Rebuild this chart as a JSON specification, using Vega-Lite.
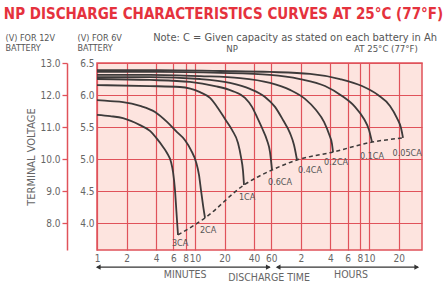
{
  "$schema": "https://vega.github.io/schema/vega-lite/v6.json",
  "width": 325,
  "height": 187,
  "autosize": "none",
  "padding": {"left": 97, "top": 63, "right": 23, "bottom": 36},
  "background": "white",
  "config": {
    "font": "Liberation Sans Narrow, DejaVu Sans Condensed, sans-serif",
    "view": {"fill": "#fde4df", "stroke": "#e0525a", "strokeWidth": 1.5}
  },
  "title": {
    "text": "NP DISCHARGE CHARACTERISTICS CURVES AT 25°C (77°F)",
    "color": "#e5323d",
    "fontSize": 15,
    "fontWeight": "bold",
    "anchor": "middle",
    "frame": "group",
    "dx": -36,
    "offset": 10
  },
  "datasets": {
    "curves": [
      {"c": "3CA", "t": 1, "v": 11.38}, {"c": "3CA", "t": 1.36, "v": 11.34}, {"c": "3CA", "t": 1.84, "v": 11.28}, {"c": "3CA", "t": 2.75, "v": 11.06}, {"c": "3CA", "t": 3.47, "v": 10.88}, {"c": "3CA", "t": 4.1, "v": 10.63}, {"c": "3CA", "t": 4.72, "v": 10.38}, {"c": "3CA", "t": 5.18, "v": 10.19}, {"c": "3CA", "t": 5.69, "v": 9.91}, {"c": "3CA", "t": 5.97, "v": 9.59}, {"c": "3CA", "t": 6.25, "v": 9.03}, {"c": "3CA", "t": 6.4, "v": 8.56}, {"c": "3CA", "t": 6.55, "v": 8.09}, {"c": "3CA", "t": 6.71, "v": 7.63},
      {"c": "2CA", "t": 1, "v": 11.84}, {"c": "2CA", "t": 1.36, "v": 11.81}, {"c": "2CA", "t": 1.84, "v": 11.78}, {"c": "2CA", "t": 2.75, "v": 11.66}, {"c": "2CA", "t": 3.91, "v": 11.47}, {"c": "2CA", "t": 5.18, "v": 11.16}, {"c": "2CA", "t": 6.55, "v": 10.84}, {"c": "2CA", "t": 7.91, "v": 10.59}, {"c": "2CA", "t": 9.1, "v": 10.28}, {"c": "2CA", "t": 10.24, "v": 9.91}, {"c": "2CA", "t": 10.99, "v": 9.5}, {"c": "2CA", "t": 11.51, "v": 9.03}, {"c": "2CA", "t": 12.07, "v": 8.56}, {"c": "2CA", "t": 12.65, "v": 8.16},
      {"c": "1CA", "t": 1, "v": 12.31}, {"c": "1CA", "t": 3.47, "v": 12.28}, {"c": "1CA", "t": 7.03, "v": 12.25}, {"c": "1CA", "t": 11.25, "v": 12.09}, {"c": "1CA", "t": 14.23, "v": 11.91}, {"c": "1CA", "t": 17.17, "v": 11.59}, {"c": "1CA", "t": 20.24, "v": 11.25}, {"c": "1CA", "t": 23.86, "v": 10.91}, {"c": "1CA", "t": 27.47, "v": 10.5}, {"c": "1CA", "t": 29.47, "v": 10.06}, {"c": "1CA", "t": 30.89, "v": 9.63}, {"c": "1CA", "t": 31.62, "v": 9.19},
      {"c": "0.6CA", "t": 1, "v": 12.5}, {"c": "0.6CA", "t": 3.47, "v": 12.47}, {"c": "0.6CA", "t": 8.89, "v": 12.41}, {"c": "0.6CA", "t": 16.0, "v": 12.28}, {"c": "0.6CA", "t": 23.86, "v": 12.13}, {"c": "0.6CA", "t": 32.37, "v": 11.91}, {"c": "0.6CA", "t": 38.16, "v": 11.63}, {"c": "0.6CA", "t": 42.93, "v": 11.31}, {"c": "0.6CA", "t": 48.29, "v": 10.97}, {"c": "0.6CA", "t": 54.28, "v": 10.59}, {"c": "0.6CA", "t": 58.26, "v": 10.22}, {"c": "0.6CA", "t": 61.06, "v": 9.66},
      {"c": "0.4CA", "t": 1, "v": 12.56}, {"c": "0.4CA", "t": 3.47, "v": 12.56}, {"c": "0.4CA", "t": 11.25, "v": 12.5}, {"c": "0.4CA", "t": 22.76, "v": 12.38}, {"c": "0.4CA", "t": 36.41, "v": 12.19}, {"c": "0.4CA", "t": 51.79, "v": 11.94}, {"c": "0.4CA", "t": 65.52, "v": 11.63}, {"c": "0.4CA", "t": 79.07, "v": 11.22}, {"c": "0.4CA", "t": 93.2, "v": 10.81}, {"c": "0.4CA", "t": 102.4, "v": 10.44}, {"c": "0.4CA", "t": 109.9, "v": 9.97},
      {"c": "0.2CA", "t": 1, "v": 12.63}, {"c": "0.2CA", "t": 3.47, "v": 12.63}, {"c": "0.2CA", "t": 11.25, "v": 12.59}, {"c": "0.2CA", "t": 28.79, "v": 12.53}, {"c": "0.2CA", "t": 58.26, "v": 12.38}, {"c": "0.2CA", "t": 93.2, "v": 12.16}, {"c": "0.2CA", "t": 132.6, "v": 11.88}, {"c": "0.2CA", "t": 171.7, "v": 11.53}, {"c": "0.2CA", "t": 207.2, "v": 11.16}, {"c": "0.2CA", "t": 233, "v": 10.78}, {"c": "0.2CA", "t": 250, "v": 10.47}, {"c": "0.2CA", "t": 256, "v": 10.22},
      {"c": "0.1CA", "t": 1, "v": 12.72}, {"c": "0.1CA", "t": 4.39, "v": 12.72}, {"c": "0.1CA", "t": 17.99, "v": 12.69}, {"c": "0.1CA", "t": 58.26, "v": 12.63}, {"c": "0.1CA", "t": 117.9, "v": 12.5}, {"c": "0.1CA", "t": 212.1, "v": 12.28}, {"c": "0.1CA", "t": 316.2, "v": 11.97}, {"c": "0.1CA", "t": 429.3, "v": 11.63}, {"c": "0.1CA", "t": 530.4, "v": 11.25}, {"c": "0.1CA", "t": 596.5, "v": 10.91}, {"c": "0.1CA", "t": 640.1, "v": 10.53},
      {"c": "0.05CA", "t": 1, "v": 12.78}, {"c": "0.05CA", "t": 4.39, "v": 12.78}, {"c": "0.05CA", "t": 17.99, "v": 12.75}, {"c": "0.05CA", "t": 58.26, "v": 12.72}, {"c": "0.05CA", "t": 149.1, "v": 12.66}, {"c": "0.05CA", "t": 301.7, "v": 12.5}, {"c": "0.05CA", "t": 506, "v": 12.28}, {"c": "0.05CA", "t": 736.8, "v": 12.0}, {"c": "0.05CA", "t": 976.8, "v": 11.66}, {"c": "0.05CA", "t": 1151, "v": 11.28}, {"c": "0.05CA", "t": 1265, "v": 10.97}, {"c": "0.05CA", "t": 1326, "v": 10.66}
    ],
    "endline": [
      {"t": 6.71, "v": 7.63}, {"t": 12.65, "v": 8.16}, {"t": 31.62, "v": 9.19}, {"t": 61.06, "v": 9.66}, {"t": 109.9, "v": 9.97}, {"t": 256, "v": 10.22}, {"t": 640.1, "v": 10.53}, {"t": 1326, "v": 10.66}
    ],
    "curveLabels": [
      {"label": "3CA", "t": 7.04, "v": 7.375}, {"label": "2CA", "t": 13.6, "v": 7.78}, {"label": "1CA", "t": 34.0, "v": 8.81}, {"label": "0.6CA", "t": 73.7, "v": 9.28}, {"label": "0.4CA", "t": 149, "v": 9.66}, {"label": "0.2CA", "t": 275, "v": 9.91}, {"label": "0.1CA", "t": 640, "v": 10.1}, {"label": "0.05CA", "t": 1460, "v": 10.19}
    ],
    "topTexts": [
      {"label": "NP", "t": 23.9, "v": 13.34},
      {"label": "AT 25°C (77°F)", "t": 889, "v": 13.34}
    ],
    "noteText": [
      {"label": "Note: C = Given capacity as stated on each battery in Ah", "t": 105, "v": 13.69}
    ],
    "bottomTexts": [
      {"label": "MINUTES", "t": 7.92, "v": 6.39},
      {"label": "DISCHARGE TIME", "t": 56.9, "v": 6.27},
      {"label": "HOURS", "t": 391, "v": 6.39}
    ],
    "arrows": [
      {"t": 1, "t2": 58, "v": 6.625},
      {"t": 68.6, "t2": 1888, "v": 6.625}
    ],
    "heads": [
      {"t": 1.03, "v": 6.625, "dir": "left"},
      {"t": 56, "v": 6.625, "dir": "right"},
      {"t": 70.5, "v": 6.625, "dir": "left"},
      {"t": 1830, "v": 6.625, "dir": "right"}
    ]
  },
  "layer": [
    {
      "data": {"name": "curves"},
      "mark": {"type": "line", "color": "#3d3a3a", "strokeWidth": 1.8, "interpolate": "monotone"},
      "encoding": {
        "x": {
          "field": "t", "type": "quantitative",
          "scale": {"type": "log", "domain": [1, 2071], "nice": false},
          "axis": {
            "values": [1, 2, 4, 6, 8, 10, 20, 40, 60, 120, 240, 360, 480, 600, 1200],
            "labelExpr": "datum.value > 60 ? format(datum.value / 60, 'd') : format(datum.value, 'd')",
            "labelOverlap": false, "labelFlush": false, "labelBound": false,
            "ticks": false, "domain": false, "labelPadding": 3,
            "labelColor": "#666666", "labelFontSize": 10,
            "grid": true, "gridColor": "#e0525a", "gridWidth": 1.2, "gridOpacity": 1,
            "title": null
          }
        },
        "y": {
          "field": "v", "type": "quantitative",
          "scale": {"domain": [7.16, 13], "nice": false, "zero": false},
          "axis": {
            "orient": "left",
            "values": [8, 9, 10, 11, 12, 13],
            "labelExpr": "format(datum.value / 2, '.1f')",
            "ticks": false, "domain": false, "labelPadding": 3,
            "labelColor": "#666666", "labelFontSize": 10,
            "grid": true, "gridColor": "#e0525a", "gridWidth": 1.2, "gridOpacity": 1,
            "title": ["(V) FOR 6V", "BATTERY"],
            "titleAngle": 0, "titleAlign": "left", "titleBaseline": "alphabetic",
            "titleX": -20, "titleY": -23, "titleFontSize": 9, "titleFontWeight": "normal",
            "titleColor": "#555555", "titleLineHeight": 10
          }
        },
        "detail": {"field": "c", "type": "nominal"}
      }
    },
    {
      "data": {"name": "endline"},
      "mark": {"type": "line", "color": "#3d3a3a", "strokeWidth": 1.5, "strokeDash": [4, 3], "interpolate": "monotone"},
      "encoding": {
        "x": {"field": "t", "type": "quantitative"},
        "y": {"field": "v", "type": "quantitative", "scale": {"domain": [7.16, 13], "nice": false, "zero": false}, "axis": null}
      }
    },
    {
      "data": {"name": "curveLabels"},
      "mark": {"type": "text", "fontSize": 9, "color": "#555555", "align": "center", "baseline": "middle"},
      "encoding": {
        "x": {"field": "t", "type": "quantitative"},
        "y": {"field": "v", "type": "quantitative", "scale": {"domain": [7.16, 13], "nice": false, "zero": false}, "axis": null},
        "text": {"field": "label"}
      }
    },
    {
      "data": {"name": "topTexts"},
      "mark": {"type": "text", "fontSize": 9.5, "color": "#555555", "align": "center", "baseline": "alphabetic"},
      "encoding": {
        "x": {"field": "t", "type": "quantitative"},
        "y": {"field": "v", "type": "quantitative", "scale": {"domain": [7.16, 13], "nice": false, "zero": false}, "axis": null},
        "text": {"field": "label"}
      }
    },
    {
      "data": {"name": "noteText"},
      "mark": {"type": "text", "fontSize": 11, "color": "#555555", "align": "center", "baseline": "alphabetic"},
      "encoding": {
        "x": {"field": "t", "type": "quantitative"},
        "y": {"field": "v", "type": "quantitative", "scale": {"domain": [7.16, 13], "nice": false, "zero": false}, "axis": null},
        "text": {"field": "label"}
      }
    },
    {
      "data": {"name": "bottomTexts"},
      "mark": {"type": "text", "fontSize": 10.5, "color": "#666666", "align": "center", "baseline": "middle"},
      "encoding": {
        "x": {"field": "t", "type": "quantitative"},
        "y": {"field": "v", "type": "quantitative", "scale": {"domain": [7.16, 13], "nice": false, "zero": false}, "axis": null},
        "text": {"field": "label"}
      }
    },
    {
      "data": {"name": "arrows"},
      "mark": {"type": "rule", "color": "#333333", "strokeWidth": 1.3},
      "encoding": {
        "x": {"field": "t", "type": "quantitative"},
        "x2": {"field": "t2"},
        "y": {"field": "v", "type": "quantitative", "scale": {"domain": [7.16, 13], "nice": false, "zero": false}, "axis": null}
      }
    },
    {
      "data": {"name": "heads"},
      "mark": {"type": "point", "filled": true, "color": "#333333", "size": 30, "opacity": 1},
      "encoding": {
        "x": {"field": "t", "type": "quantitative"},
        "y": {"field": "v", "type": "quantitative", "scale": {"domain": [7.16, 13], "nice": false, "zero": false}, "axis": null},
        "shape": {"field": "dir", "type": "nominal", "scale": {"domain": ["left", "right"], "range": ["triangle-left", "triangle-right"]}, "legend": null}
      }
    },
    {
      "data": {"name": "endline"},
      "mark": {"type": "point", "opacity": 0},
      "encoding": {
        "y": {
          "field": "v", "type": "quantitative",
          "scale": {"domain": [7.16, 13], "nice": false, "zero": false},
          "axis": {
            "orient": "left", "offset": 30,
            "values": [8, 9, 10, 11, 12, 13],
            "format": ".1f",
            "ticks": true, "tickColor": "#e0525a", "tickSize": 5, "tickWidth": 1.3,
            "domain": true, "domainColor": "#e0525a", "domainWidth": 1.5,
            "labelPadding": 2, "labelColor": "#666666", "labelFontSize": 10,
            "grid": false,
            "title": "TERMINAL VOLTAGE", "titlePadding": 3, "titleFontSize": 11,
            "titleFontWeight": "normal", "titleColor": "#666666"
          }
        }
      }
    },
    {
      "data": {"name": "endline"},
      "mark": {"type": "point", "opacity": 0},
      "encoding": {
        "y": {
          "field": "v", "type": "quantitative",
          "scale": {"domain": [7.16, 13], "nice": false, "zero": false},
          "axis": {
            "orient": "left",
            "labels": false, "ticks": false, "domain": false, "grid": false,
            "title": ["(V) FOR 12V", "BATTERY"],
            "titleAngle": 0, "titleAlign": "left", "titleBaseline": "alphabetic",
            "titleX": -92, "titleY": -23, "titleFontSize": 9, "titleFontWeight": "normal",
            "titleColor": "#555555", "titleLineHeight": 10
          }
        }
      }
    }
  ],
  "resolve": {"axis": {"y": "independent"}}
}
